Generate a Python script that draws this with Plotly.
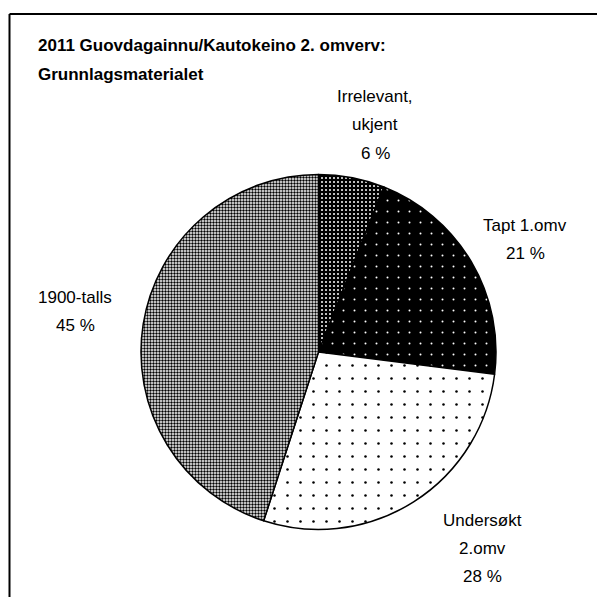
import plotly.graph_objects as go

# data
labels = ["Irrelevant, ukjent", "Tapt 1.omv", "Undersøkt 2.omv", "1900-talls"]
label_lines = [["Irrelevant,", "ukjent"], ["Tapt 1.omv"], ["Undersøkt", "2.omv"], ["1900-talls"]]
values = [6, 21, 28, 45]

title_lines = ["2011 Guovdagainnu/Kautokeino 2. omverv:", "Grunnlagsmaterialet"]

# page is 605x605 but the html body has an 8px margin
OFF = 8
W = 605 - 2 * OFF
H = 605 - 2 * OFF
FONT = "Liberation Sans, Arial, sans-serif"


def px_x(x):
    return (x - OFF) / W


def px_y(y):
    return 1 - (y - OFF) / H


# fill patterns per slice
patterns = [
    dict(shape=".", bgcolor="black", fgcolor="white", size=4, solidity=0.2),
    dict(shape=".", bgcolor="black", fgcolor="white", size=11, solidity=0.025),
    dict(shape=".", bgcolor="white", fgcolor="black", size=13, solidity=0.03),
    dict(shape=".", bgcolor="white", fgcolor="black", size=3, solidity=0.5),
]

fig = go.Figure(go.Pie(
    labels=labels,
    values=values,
    sort=False,
    direction="clockwise",
    rotation=0,
    textinfo="none",
    hoverinfo="label+percent",
    marker=dict(
        colors=[p["bgcolor"] for p in patterns],
        line=dict(color="black", width=1.5),
        pattern=dict(
            shape=[p["shape"] for p in patterns],
            bgcolor=[p["bgcolor"] for p in patterns],
            fgcolor=[p["fgcolor"] for p in patterns],
            size=[p["size"] for p in patterns],
            solidity=[p["solidity"] for p in patterns],
            fillmode="replace",
        ),
    ),
    domain=dict(x=[px_x(141), px_x(496)], y=[px_y(531), px_y(173)]),
    showlegend=False,
))

# label block positions (pixel centre x, first line y)
label_pos = [(375, 97), (525, 225), (483, 520), (75, 297)]
line_h = 28
total = sum(values)

annotations = []
for lines, v, (px, py) in zip(label_lines, values, label_pos):
    pct = round(100 * v / total)
    for i, t in enumerate(lines + [f"{pct} %"]):
        annotations.append(dict(
            x=px_x(px), y=px_y(py + i * line_h), xref="paper", yref="paper",
            text=t, showarrow=False, xanchor="center", yanchor="middle",
            font=dict(family=FONT, size=17, color="black"),
        ))

for i, t in enumerate(title_lines):
    annotations.append(dict(
        x=px_x(36), y=px_y(45 + i * 30), xref="paper", yref="paper",
        text=f"<b>{t}</b>", showarrow=False, xanchor="left", yanchor="middle",
        font=dict(family=FONT, size=17, color="black"),
    ))

# outer frame: only top and left edges fall inside the picture
frame = dict(color="black", width=2)
fig.update_layout(
    width=W, height=H,
    margin=dict(l=0, r=0, t=0, b=0),
    paper_bgcolor="white",
    plot_bgcolor="white",
    annotations=annotations,
    shapes=[
        dict(type="line", xref="paper", yref="paper",
             x0=px_x(9.5), x1=1.0, y0=px_y(14), y1=px_y(14), line=frame),
        dict(type="line", xref="paper", yref="paper",
             x0=px_x(9.5), x1=px_x(9.5), y0=0, y1=px_y(14), line=frame),
    ],
)

fig.write_html("out.html")
